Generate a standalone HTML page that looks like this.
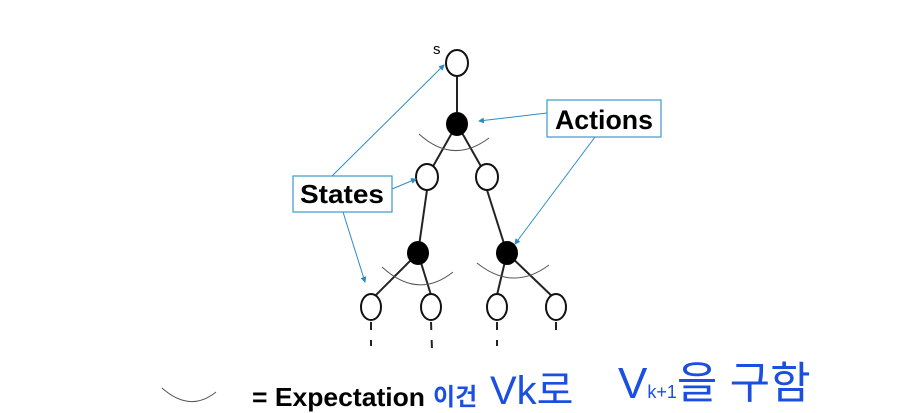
<!DOCTYPE html>
<html><head><meta charset="utf-8"><style>
body{margin:0;background:#fff;width:917px;height:413px;overflow:hidden}
svg{display:block}
</style></head><body>
<svg width="917" height="413" viewBox="0 0 917 413" xmlns="http://www.w3.org/2000/svg">
<defs><marker id="a" markerWidth="6" markerHeight="6" refX="5" refY="3" orient="auto"><path d="M0,0 L6,3 L0,6z" fill="#2b8cc4"/></marker></defs>
<g stroke="#222" stroke-width="2" fill="none">
<line x1="457" y1="76" x2="457" y2="112"/>
<line x1="457" y1="124" x2="427" y2="177"/>
<line x1="457" y1="124" x2="487" y2="177"/>
<line x1="427" y1="190" x2="418" y2="253"/>
<line x1="487" y1="190" x2="507" y2="253"/>
<line x1="418" y1="253" x2="371" y2="300"/>
<line x1="418" y1="253" x2="431" y2="295"/>
<line x1="507" y1="253" x2="497" y2="295"/>
<line x1="507" y1="253" x2="556" y2="300"/>
</g>
<g stroke="#555" stroke-width="1" fill="none">
<path d="M419,134 Q453,165 489,138"/>
<path d="M382,267 Q418,300 453,272"/>
<path d="M477,263 Q513,292 549,265"/>
<path d="M162,388 Q190,413 216,392"/>
</g>
<g stroke="#111" stroke-width="2" fill="#fff">
<ellipse cx="457" cy="63" rx="11" ry="13"/>
<ellipse cx="427" cy="177" rx="11" ry="13"/>
<ellipse cx="487" cy="177" rx="11" ry="13"/>
<ellipse cx="371" cy="307" rx="10" ry="13"/>
<ellipse cx="431" cy="307" rx="10" ry="13"/>
<ellipse cx="497" cy="307" rx="10" ry="13"/>
<ellipse cx="556" cy="307" rx="10" ry="13"/>
</g>
<g fill="#000"><ellipse cx="457" cy="124" rx="11" ry="12"/><ellipse cx="418" cy="253" rx="11" ry="12"/><ellipse cx="507" cy="253" rx="11" ry="12"/></g>
<g stroke="#222" stroke-width="2" stroke-dasharray="8,10">
<line x1="371" y1="322" x2="371" y2="346"/><line x1="431" y1="322" x2="432" y2="350"/><line x1="497" y1="322" x2="497" y2="346"/><line x1="556" y1="322" x2="556" y2="334"/>
</g>
<text x="433" y="54" font-family="Liberation Sans,sans-serif" font-size="15">s</text>
<g stroke="#2b8cc4" stroke-width="1" fill="none" marker-end="url(#a)">
<line x1="332" y1="176" x2="444" y2="65"/>
<line x1="392" y1="189" x2="416" y2="179"/>
<line x1="343" y1="212" x2="365" y2="282"/>
<line x1="547" y1="113" x2="479" y2="121"/>
<line x1="595" y1="137" x2="515" y2="244"/>
</g>
<rect x="293" y="176" width="99" height="36" fill="#fff" stroke="#3a9ac8" stroke-width="1.2"/>
<text x="342" y="203" text-anchor="middle" font-family="Liberation Sans,sans-serif" font-weight="bold" font-size="26" textLength="84" lengthAdjust="spacingAndGlyphs">States</text>
<rect x="547" y="100" width="114" height="37" fill="#fff" stroke="#3a9ac8" stroke-width="1.2"/>
<text x="604" y="129" text-anchor="middle" font-family="Liberation Sans,sans-serif" font-weight="bold" font-size="27" textLength="98" lengthAdjust="spacingAndGlyphs">Actions</text>
<text x="252" y="406" font-family="Liberation Sans,sans-serif" font-weight="bold" font-size="26" textLength="173" lengthAdjust="spacingAndGlyphs">= Expectation</text>
<g fill="#1a4fe0" font-family="'Noto Sans CJK KR',sans-serif" font-weight="bold">
<text x="433" y="405" font-size="24">이건</text>
<text x="490" y="404" font-size="40" font-weight="normal" font-family="Liberation Sans,sans-serif">Vk로</text>
<text x="618" y="398" font-size="44" font-weight="normal" font-family="Liberation Sans,'Noto Sans CJK KR',sans-serif">V<tspan font-size="18">k+1</tspan>을 구함</text>
</g>
</svg>
</body></html>
